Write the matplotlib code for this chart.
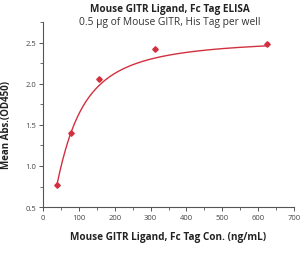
import numpy as np
import matplotlib
matplotlib.use("Agg")
import matplotlib.pyplot as plt
from matplotlib.ticker import MultipleLocator

# data
conc = [39, 78, 156, 312.5, 625]
od450 = [0.77, 1.40, 2.06, 2.42, 2.48]

# 4-parameter logistic fit parameters (bottom, top, EC50, hill)
fit_bottom = 0.0
fit_top = 2.55
fit_ec50 = 68.0
fit_hill = 1.49

title = "Mouse GITR Ligand, Fc Tag ELISA"
subtitle = "0.5 \u03bcg of Mouse GITR, His Tag per well"
xlabel = "Mouse GITR Ligand, Fc Tag Con. (ng/mL)"
ylabel = "Mean Abs.(OD450)"

red = "#d2303f"
grey = "#555555"

plt.rcParams['font.family'] = ['Open Sans', 'DejaVu Sans']

fig = plt.figure(figsize=(3.06, 2.55), dpi=100)
ax = fig.add_axes([0.1405, 0.184, 0.8205, 0.726])

xs = np.linspace(conc[0], conc[-1], 300)
ys = fit_top + (fit_bottom - fit_top) / (1 + (xs / fit_ec50) ** fit_hill)
ax.plot(xs, ys, color=red, lw=1.0)
ax.plot(conc, od450, linestyle="none", marker="D", markersize=2.8, color=red)

ax.set_xlim(0, 700)
ax.set_ylim(0.5, 2.75)
ax.xaxis.set_major_locator(MultipleLocator(100))
ax.xaxis.set_minor_locator(MultipleLocator(50))
ax.yaxis.set_major_locator(MultipleLocator(0.5))
ax.yaxis.set_minor_locator(MultipleLocator(0.25))
ax.yaxis.set_major_formatter(matplotlib.ticker.FormatStrFormatter("%.1f"))

for s in ["top", "right"]:
    ax.spines[s].set_visible(False)
for s in ["left", "bottom"]:
    ax.spines[s].set_color(grey)
    ax.spines[s].set_linewidth(0.8)

ax.tick_params(which="major", length=3, width=0.7, color=grey, labelsize=5.5,
               labelcolor="#444444", pad=2)
ax.tick_params(which="minor", length=2, width=0.6, color=grey)

ax.set_xlabel(xlabel, fontsize=7.2, fontweight="bold", color="#222222", labelpad=7)
ax.set_ylabel(ylabel, fontsize=7, fontweight="bold", color="#222222")
ax.yaxis.set_label_coords(-0.125, 0.45)

fig.text(0.555, 0.964, title, ha="center", va="center", fontsize=7.2,
         fontweight="bold", color="#222222")
fig.text(0.555, 0.913, subtitle, ha="center", va="center", fontsize=7.4,
         color="#333333")

fig.savefig("out.png", dpi=100)
